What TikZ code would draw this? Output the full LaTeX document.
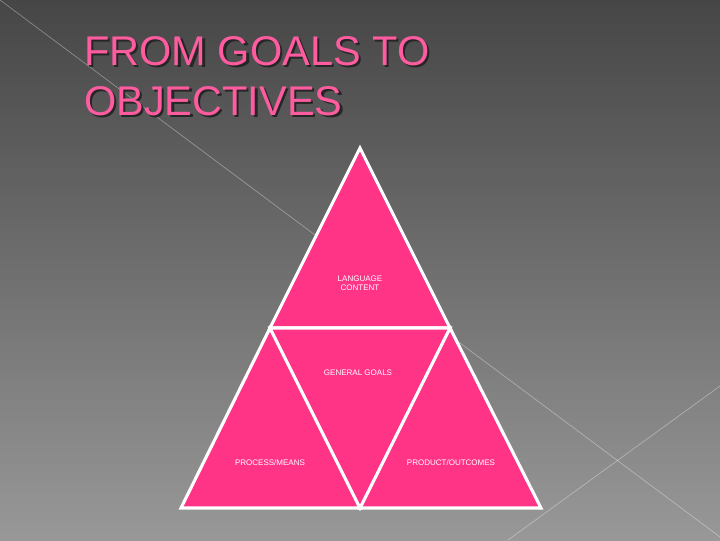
\documentclass[tikz,border=0pt]{standalone}
\usepackage{fontspec}
\setmainfont{Liberation Sans}
\usepackage{tikz}
\definecolor{slidepink}{RGB}{255,52,135}
\definecolor{titlepink}{RGB}{255,92,160}
\newcommand{\dropshadowed}[1]{\makebox[0pt][l]{\hspace{1.6pt}\raisebox{-1.6pt}{\color{black!85}#1}}#1}
\tikzset{piece/.style={fill=slidepink, draw=white, line width=2.2pt, line join=miter},
  tag/.style={text=white, align=center, inner sep=0pt, font=\fontsize{5.7}{6.2}\selectfont},
  deco/.style={white, opacity=0.35, line width=0.5pt},
  heading/.style={anchor=base west, inner sep=0pt, text=titlepink, font=\fontsize{29.5}{34}\selectfont}}

\begin{document}
\begin{tikzpicture}[x=0.025cm, y=-0.025cm]
            \useasboundingbox (0, 0) rectangle (720, 540);
            \shade[top color={rgb,255:red,70;green,70;blue,70}, middle color={rgb,255:red,95;green,95;blue,95}, bottom color={rgb,255:red,152;green,152;blue,152}] (0, 0) rectangle (720, 540);
            \draw[deco] (0, 0) -- (720, 537);
            \draw[deco] (508, 540) -- (720, 386);
            \node[heading] (title1) at (84, 65) {\dropshadowed{FROM GOALS TO}};
            \node[heading] (title2) at (84, 115) {\dropshadowed{OBJECTIVES}};
            \coordinate (apex) at (360, 148);
            \coordinate (midL) at (270, 328);
            \coordinate (midR) at (450, 328);
            \coordinate (botL) at (181, 508);
            \coordinate (botM) at (360, 508);
            \coordinate (botR) at (541, 508);
            \draw[piece] (apex) -- (midL) -- (midR) -- cycle;
            \draw[piece] (midL) -- (botL) -- (botM) -- cycle;
            \draw[piece] (midR) -- (botM) -- (botR) -- cycle;
            \draw[piece] (midL) -- (midR) -- (botM) -- cycle;
            \node[tag] (content) at (360, 283) {LANGUAGE\\CONTENT};
            \node[tag] (goals) at (358, 373) {GENERAL GOALS};
            \node[tag] (means) at (270, 463) {PROCESS/MEANS};
            \node[tag] (outcomes) at (451, 463) {PRODUCT/OUTCOMES};
        \end{tikzpicture}
\end{document}
